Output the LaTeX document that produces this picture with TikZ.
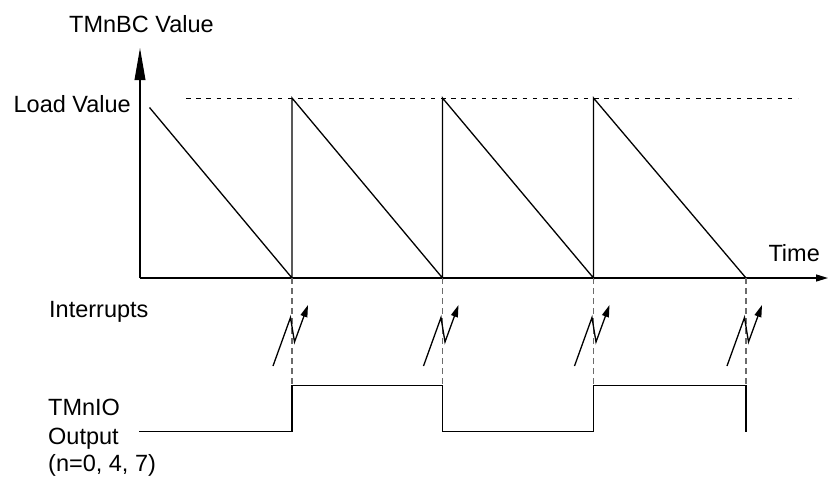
\documentclass[tikz,border=0pt]{standalone}
\usepackage{fontspec}
\setmainfont{Liberation Sans}
\usetikzlibrary{arrows.meta}
\definecolor{markgray}{rgb}{0.42,0.42,0.42}
\tikzset{
  lbl/.style={inner sep=0pt, anchor=base west, font=\fontsize{23.5}{28.5}\selectfont},
  axisline/.style={line width=1.4pt},
  sigline/.style={line width=1.3pt, line join=miter},
  refdash/.style={line width=1pt, dash pattern=on 4.5pt off 5.7pt},
  markdash/.style={line width=1.3pt, markgray, dash pattern=on 6pt off 4pt},
  bolt/.style={line width=1.3pt, -{Triangle[length=12pt,width=7pt]}},
}
\begin{document}
\begin{tikzpicture}[x=1pt,y=-1pt]
\useasboundingbox (0,0) rectangle (828,480);
% labels
\node[lbl] (yl) at (69,32.3) {TMnBC Value};
\node[lbl, anchor=base east] (load) at (131,112.3) {Load Value};
\node[lbl] (tl) at (768.3,261) {Time};
\node[lbl] (intr) at (49,317.3) {Interrupts};
\node[lbl] (o1) at (48,415) {TMnIO};
\node[lbl] (o2) at (48,444.5) {Output};
\node[lbl] (o3) at (48,471.5) {(n=0, 4, 7)};
% axes
\coordinate (O) at (140,278);
\coordinate (Ytop) at (140,48);
\coordinate (Xend) at (828,278);
\draw[axisline, -{Triangle[length=32pt,width=10.7pt]}] (O) -- (Ytop);
\draw[axisline, -{Triangle[length=12pt,width=7pt]}] (O) -- (Xend);
% load value reference
\coordinate (R0) at (186,98);
\coordinate (R1) at (798,98);
\draw[refdash] (R0) -- (R1);
% event times
\coordinate (S0) at (149.5,107.5);
\foreach \n/\t in {1/292,2/442.5,3/593.5,4/746}{
  \coordinate (B\n) at (\t,278);
  \coordinate (P\n) at (\t,98);
  \coordinate (D\n) at (\t,384);
  \coordinate (H\n) at (\t,385.5);
  \coordinate (L\n) at (\t,431.5);
  \coordinate (Z\n) at (\t-19,366);
  \coordinate (Zp\n) at (\t-1.5,317.5);
  \coordinate (Zv\n) at (\t+2.5,342);
  \coordinate (Zt\n) at (\t+16,305);
}
% sawtooth
\draw[sigline] (S0) -- (B1) -- (P1) -- (B2) -- (P2) -- (B3) -- (P3) -- (B4);
% interrupt markers
\foreach \n in {1,2,3,4}{
  \draw[markdash] (B\n) -- (D\n);
  \draw[bolt] (Z\n) -- (Zp\n) -- (Zv\n) -- (Zt\n);
}
% output waveform
\coordinate (Ostart) at (139,431.5);
\coordinate (Oend) at (746,432);
\draw[sigline] (Ostart) -- (L1) -- (H1) -- (H2) -- (L2) -- (L3) -- (H3) -- (H4) -- (Oend);
\end{tikzpicture}
\end{document}
